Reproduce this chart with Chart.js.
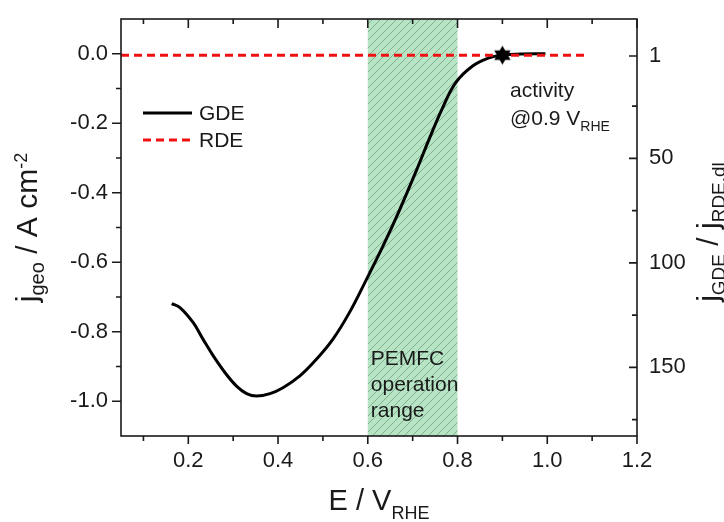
<!DOCTYPE html>
<html>
<head>
<meta charset="utf-8">
<script src="https://cdn.jsdelivr.net/npm/chart.js@4"></script>
<style>
  html, body { margin: 0; padding: 0; background: #fff; }
  #wrap { width: 724px; height: 522px; }
</style>
</head>
<body>
<div id="wrap"><canvas id="myChart" width="724" height="522"></canvas></div>
<script>
// GDE polarisation curve (E in V_RHE, j in A cm-2)
const gdeE = [0.163, 0.182, 0.211, 0.233, 0.256, 0.285, 0.308, 0.330, 0.352, 0.382, 0.411, 0.448, 0.485, 0.522, 0.559, 0.596, 0.633, 0.670, 0.708, 0.737, 0.767, 0.796, 0.833, 0.870, 0.900, 0.940, 0.996];
const gdeJ = [-0.719, -0.731, -0.774, -0.822, -0.870, -0.923, -0.957, -0.978, -0.985, -0.978, -0.961, -0.928, -0.880, -0.822, -0.745, -0.652, -0.556, -0.452, -0.337, -0.245, -0.155, -0.083, -0.036, -0.012, -0.004, -0.001, 0.0];

// RDE curve (flat near zero on this scale)
const rdeE = [0.05, 1.085];
const rdeJ = [-0.004, -0.004];

// activity point
const actE = [0.9];
const actJ = [-0.004];

// PEMFC operation range
const pemfcRange = [0.6, 0.8];

// ticks
const xMajor = [0.2, 0.4, 0.6, 0.8, 1.0, 1.2];
const xMinor = [0.1, 0.3, 0.5, 0.7, 0.9, 1.1];
const yMajor = [-1.0, -0.8, -0.6, -0.4, -0.2, 0.0];
const yMinor = [-0.9, -0.7, -0.5, -0.3, -0.1];
const y2Major = [1, 50, 100, 150];
const y2Minor = [25, 75, 125, 175];

const FONT = '"Liberation Sans", Arial, sans-serif';
Chart.defaults.font.family = FONT;
Chart.defaults.color = '#1a1a1a';

// filled six-pointed star for the activity marker
function hexagram(r) {
  const c = document.createElement('canvas');
  c.width = c.height = 2 * r + 2;
  const g = c.getContext('2d');
  g.fillStyle = '#000';
  [-Math.PI / 2, Math.PI / 2].forEach(a0 => {
    g.beginPath();
    for (let i = 0; i < 3; i++) {
      const a = a0 + i * 2 * Math.PI / 3;
      g.lineTo(r + 1 + r * Math.cos(a), r + 1 + r * Math.sin(a));
    }
    g.closePath();
    g.fill();
  });
  return c;
}

// hatched green fill
function hatch() {
  const c = document.createElement('canvas');
  c.width = c.height = 8;
  const g = c.getContext('2d');
  g.fillStyle = '#b6e4c5';
  g.fillRect(0, 0, 8, 8);
  g.strokeStyle = 'rgba(95,140,108,0.6)';
  g.lineWidth = 1;
  g.beginPath();
  g.moveTo(0, 8); g.lineTo(8, 0);
  g.moveTo(-1, 1); g.lineTo(1, -1);
  g.moveTo(7, 9); g.lineTo(9, 7);
  g.stroke();
  return c;
}

function toPoints(xs, ys) {
  return xs.map((x, i) => ({ x: x, y: ys[i] }));
}

// text with sub/superscripts: parts = [text, size, dy]
function richText(ctx, parts, x, y, angle) {
  ctx.save();
  ctx.translate(x, y);
  ctx.rotate(angle);
  ctx.textBaseline = 'alphabetic';
  ctx.textAlign = 'left';
  let w = 0;
  parts.forEach(p => { ctx.font = p[1] + 'px ' + FONT; w += ctx.measureText(p[0]).width; });
  let cx = -w / 2;
  parts.forEach(p => {
    ctx.font = p[1] + 'px ' + FONT;
    ctx.fillText(p[0], cx, p[2]);
    cx += ctx.measureText(p[0]).width;
  });
  ctx.restore();
}

function leftText(ctx, parts, x, y) {
  let cx = x;
  parts.forEach(p => {
    ctx.font = p[1] + 'px ' + FONT;
    ctx.fillText(p[0], cx, y + p[2]);
    cx += ctx.measureText(p[0]).width;
  });
}

const rangeBox = {
  id: 'rangeBox',
  beforeDatasetsDraw(chart) {
    const { ctx, chartArea: a, scales: { x } } = chart;
    const x0 = x.getPixelForValue(pemfcRange[0]);
    const x1 = x.getPixelForValue(pemfcRange[1]);
    ctx.save();
    ctx.fillStyle = ctx.createPattern(hatch(), 'repeat');
    ctx.fillRect(x0, a.top, x1 - x0, a.bottom - a.top);
    ctx.fillStyle = '#1a1a1a';
    ctx.font = '21px ' + FONT;
    ctx.textBaseline = 'alphabetic';
    ctx.fillText('PEMFC', x0 + 3, 365);
    ctx.fillText('operation', x0 + 3, 391);
    ctx.fillText('range', x0 + 3, 417);
    ctx.restore();
  }
};

const frame = {
  id: 'frame',
  afterDraw(chart) {
    const { ctx, chartArea: a, scales: { x, y, y2 } } = chart;
    ctx.save();
    ctx.strokeStyle = '#1a1a1a';
    ctx.lineWidth = 1.6;
    ctx.strokeRect(a.left, a.top, a.right - a.left, a.bottom - a.top);
    ctx.beginPath();
    const tick = (x0, y0, x1, y1) => { ctx.moveTo(x0, y0); ctx.lineTo(x1, y1); };
    xMajor.forEach(v => { const p = x.getPixelForValue(v); tick(p, a.bottom, p, a.bottom + 8); tick(p, a.top, p, a.top + 9); });
    xMinor.forEach(v => { const p = x.getPixelForValue(v); tick(p, a.bottom, p, a.bottom + 5); tick(p, a.top, p, a.top + 5); });
    yMajor.forEach(v => { const p = y.getPixelForValue(v); tick(a.left, p, a.left - 9, p); });
    yMinor.forEach(v => { const p = y.getPixelForValue(v); tick(a.left, p, a.left - 5, p); });
    y2Major.forEach(v => { const p = y2.getPixelForValue(v); tick(a.right, p, a.right - 8, p); });
    y2Minor.forEach(v => { const p = y2.getPixelForValue(v); tick(a.right, p, a.right - 5, p); });
    ctx.stroke();

    // legend
    const ds = chart.data.datasets;
    [[0, 113], [1, 140]].forEach(([i, ly]) => {
      ctx.beginPath();
      ctx.strokeStyle = ds[i].borderColor;
      ctx.lineWidth = ds[i].borderWidth;
      ctx.setLineDash(ds[i].borderDash || []);
      ctx.moveTo(143, ly); ctx.lineTo(192, ly);
      ctx.stroke();
      ctx.setLineDash([]);
      ctx.fillStyle = '#1a1a1a';
      ctx.font = '21px ' + FONT;
      ctx.textBaseline = 'middle';
      ctx.fillText(ds[i].label, 199, ly + 1);
    });

    // annotation
    ctx.textBaseline = 'alphabetic';
    ctx.font = '21px ' + FONT;
    ctx.fillText('activity', 510, 97);
    leftText(ctx, [['@0.9 V', 21, 0], ['RHE', 14, 6]], 510, 125);

    // axis titles
    richText(ctx, [['E / V', 29, 0], ['RHE', 18, 9]], (a.left + a.right) / 2, 510, 0);
    richText(ctx, [['j', 30, 0], ['geo', 20, 7], [' / A cm', 30, 0], ['-2', 18, -10]], 37, (a.top + a.bottom) / 2, -Math.PI / 2);
    richText(ctx, [['j', 30, 0], ['GDE', 19, 7], [' / j', 30, 0], ['RDE,dl', 19, 7]], 718, 232, -Math.PI / 2);
    ctx.restore();
  }
};

// keep the plot area fixed: no extra padding for edge labels
function fixY(width) {
  return s => { s.width = width; s.paddingTop = 0; s.paddingBottom = 0; };
}

const ctx = document.getElementById('myChart');
new Chart(ctx, {
  type: 'scatter',
  data: {
    datasets: [
      {
        label: 'GDE',
        data: toPoints(gdeE, gdeJ),
        showLine: true,
        borderColor: '#000',
        borderWidth: 3,
        pointRadius: 0,
        tension: 0.4,
        order: 2
      },
      {
        label: 'RDE',
        data: toPoints(rdeE, rdeJ),
        showLine: true,
        borderColor: '#f01010',
        borderWidth: 3,
        borderDash: [8, 5],
        pointRadius: 0,
        order: 1
      },
      {
        label: 'activity',
        data: toPoints(actE, actJ),
        pointStyle: hexagram(9.5),
        pointRadius: 10,
        order: 0
      }
    ]
  },
  options: {
    responsive: false,
    animation: false,
    layout: { padding: { top: 19, left: 0, right: 0, bottom: 0 } },
    plugins: { legend: { display: false }, tooltip: { enabled: false } },
    scales: {
      x: {
        type: 'linear',
        min: 0.05,
        max: 1.2,
        grid: { display: false, drawTicks: false },
        border: { display: false },
        afterFit: s => { s.height = 86; s.paddingLeft = 0; s.paddingRight = 0; },
        afterBuildTicks: s => { s.ticks = xMajor.map(v => ({ value: v })); },
        ticks: { padding: 12, font: { size: 22 }, maxRotation: 0, autoSkip: false, callback: v => v.toFixed(1) }
      },
      y: {
        min: -1.1,
        max: 0.1,
        grid: { display: false, drawTicks: false },
        border: { display: false },
        afterFit: fixY(121),
        afterBuildTicks: s => { s.ticks = yMajor.map(v => ({ value: v })); },
        ticks: { padding: 13, font: { size: 22 }, callback: v => v.toFixed(1) }
      },
      y2: {
        position: 'right',
        reverse: true,
        min: -16.72,
        max: 182.85,
        grid: { display: false, drawTicks: false },
        border: { display: false },
        afterFit: fixY(87),
        afterBuildTicks: s => { s.ticks = y2Major.map(v => ({ value: v })); },
        ticks: { padding: 12, font: { size: 22 }, callback: v => String(v) }
      }
    }
  },
  plugins: [rangeBox, frame]
});
</script>
</body>
</html>
